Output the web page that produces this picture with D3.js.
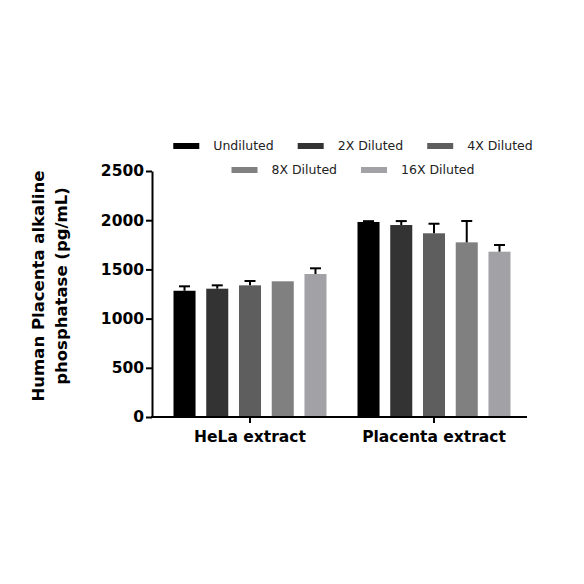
<!DOCTYPE html>
<html>
<head>
<meta charset="utf-8">
<script src="https://cdn.jsdelivr.net/npm/d3@7"></script>
<style>
  body { margin: 0; background: #fff; }
  svg { display: block; }
</style>
</head>
<body>
<div id="chart"></div>
<script>
// data
const groups = ['HeLa extract', 'Placenta extract'];
const series = ['Undiluted', '2X Diluted', '4X Diluted', '8X Diluted', '16X Diluted'];
const colors = ['#000000', '#333333', '#5e5e5e', '#808080', '#a2a2a6'];
const helaValues = [1283, 1304, 1338, 1379, 1453];
const helaErrors = [45, 34, 44, 0, 58];
const placentaValues = [1982, 1951, 1867, 1775, 1680];
const placentaErrors = [8, 40, 97, 217, 68];
const yTicks = [0, 500, 1000, 1500, 2000, 2500];
const yTitle = ['Human Placenta alkaline', 'phosphatase (pg/mL)'];

const width = 584, height = 584;
const margin = { top: 171, right: 57, bottom: 167, left: 152 };
const boldFont = '"DejaVu Sans", sans-serif';

const rows = [];
groups.forEach((g, gi) => {
    const vals = gi === 0 ? helaValues : placentaValues;
    const errs = gi === 0 ? helaErrors : placentaErrors;
    series.forEach((s, si) => {
        rows.push({ group: g, series: s, value: vals[si], err: errs[si], color: colors[si] });
    });
});

const svg = d3.select('#chart').append('svg')
    .attr('width', width)
    .attr('height', height);

const y = d3.scaleLinear()
    .domain([0, 2500])
    .range([height - margin.bottom, margin.top]);

const x0 = d3.scaleBand()
    .domain(groups)
    .range([margin.left + 6, width - margin.right - 1])
    .padding(0);

const groupSpan = 153;
const x1 = d3.scaleBand()
    .domain(series)
    .range([-groupSpan / 2, groupSpan / 2])
    .paddingInner(0.327)
    .paddingOuter(0);

// bars
const bars = svg.append('g').classed('bars', true);
bars.selectAll('rect')
    .data(rows)
  .enter().append('rect')
    .attr('x', d => x0(d.group) + x0.bandwidth() / 2 + x1(d.series))
    .attr('y', d => y(d.value))
    .attr('width', x1.bandwidth())
    .attr('height', d => y(0) - y(d.value))
    .attr('fill', d => d.color);

// error bars (upper only)
const errG = svg.append('g').classed('errors', true)
    .attr('stroke', '#000')
    .attr('stroke-width', 2);
const withErr = rows.filter(d => d.err > 0);
const cx = d => x0(d.group) + x0.bandwidth() / 2 + x1(d.series) + x1.bandwidth() / 2;
errG.selectAll('line.stem')
    .data(withErr)
  .enter().append('line')
    .classed('stem', true)
    .attr('x1', cx).attr('x2', cx)
    .attr('y1', d => y(d.value))
    .attr('y2', d => y(d.value + d.err));
errG.selectAll('line.cap')
    .data(withErr)
  .enter().append('line')
    .classed('cap', true)
    .attr('x1', d => cx(d) - 5.5).attr('x2', d => cx(d) + 5.5)
    .attr('y1', d => y(d.value + d.err))
    .attr('y2', d => y(d.value + d.err));

// y axis
const yAxis = svg.append('g')
    .attr('transform', 'translate(' + margin.left + ',0)')
    .call(d3.axisLeft(y)
        .tickValues(yTicks)
        .tickFormat(d3.format('d'))
        .tickSize(6)
        .tickPadding(2)
        .tickSizeOuter(0));
yAxis.select('.domain').attr('stroke-width', 2);
yAxis.selectAll('.tick line').attr('stroke-width', 2);
yAxis.selectAll('.tick text')
    .attr('font-family', boldFont)
    .attr('font-weight', 'bold')
    .attr('font-size', '15.5px')
    .attr('fill', '#000');

// x axis
const xAxis = svg.append('g')
    .attr('transform', 'translate(0,' + y(0) + ')')
    .call(d3.axisBottom(x0).tickSize(6).tickPadding(8).tickSizeOuter(0));
xAxis.select('.domain')
    .attr('d', 'M' + (margin.left - 1) + ',0H' + (width - margin.right))
    .attr('stroke-width', 2);
xAxis.selectAll('.tick line').attr('stroke-width', 2);
xAxis.selectAll('.tick text')
    .attr('font-family', boldFont)
    .attr('font-weight', 'bold')
    .attr('font-size', '15.5px')
    .attr('fill', '#000');

// y title
const yLabel = svg.append('text')
    .attr('transform', 'translate(44,' + 286 + ') rotate(-90)')
    .attr('text-anchor', 'middle')
    .attr('font-family', boldFont)
    .attr('font-weight', 'bold')
    .attr('font-size', '16.5px')
    .attr('fill', '#000');
yLabel.selectAll('tspan')
    .data(yTitle)
  .enter().append('tspan')
    .attr('x', 0)
    .attr('dy', (d, i) => i === 0 ? 0 : 23)
    .text(d => d);

// legend, two centred rows
const legendRows = [series.slice(0, 3), series.slice(3)];
const legendY = [146, 170];
const legendCenter = 353;
const legend = svg.append('g').classed('legend', true);
legendRows.forEach((names, ri) => {
    const row = legend.append('g');
    let cursor = 0;
    names.forEach(name => {
        const item = row.append('g').attr('transform', 'translate(' + cursor + ',0)');
        item.append('rect')
            .attr('x', 0)
            .attr('y', -3)
            .attr('width', 26)
            .attr('height', 6)
            .attr('fill', colors[series.indexOf(name)]);
        const t = item.append('text')
            .attr('x', 40)
            .attr('dy', '0.35em')
            .attr('font-family', '"DejaVu Sans", sans-serif')
            .attr('font-size', '12.5px')
            .attr('fill', '#222')
            .text(name);
        cursor += 40 + t.node().getComputedTextLength() + 24;
    });
    const rowWidth = cursor - 24;
    row.attr('transform', 'translate(' + (legendCenter - rowWidth / 2) + ',' + legendY[ri] + ')');
});
</script>
</body>
</html>
